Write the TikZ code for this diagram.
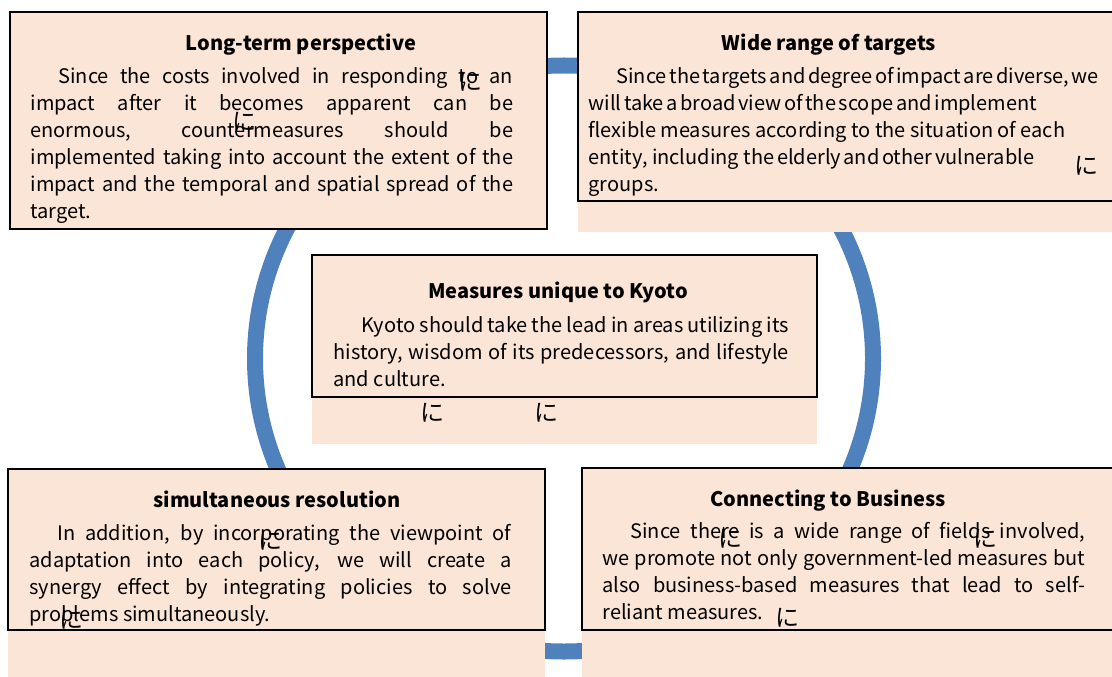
\documentclass[tikz,border=0pt]{standalone}
\usepackage{fontspec}
\setmainfont{Noto Sans CJK JP}

\tikzset{every picture/.style={line width=0.75pt}}
\tikzset{
	peach/.style={fill={rgb, 255:red, 251; green, 229; blue, 214 }},
	frame/.style={draw=black, line width=1.6pt},
	ring/.style={draw={rgb, 255:red, 79; green, 129; blue, 189 }, line width=12pt},
	boxtitle/.style={anchor=base, inner sep=0pt, font=\fontsize{15}{20}\selectfont\bfseries},
	boxbody/.style={anchor=base west, inner sep=0pt, font=\fontsize{15}{20.25}\selectfont},
	stray/.style={inner sep=0pt, font=\fontsize{18}{18}\selectfont},
}
\def \ringX {564}
\def \ringY {358.5}
\def \ringRX {309}
\def \ringRY {293}
\def \indentA {\hspace*{21pt}}
\def \tightsp {\spaceskip=0.13em}
\def \normalsp {\spaceskip=0pt}

\begin{document}
\begin{tikzpicture}[x=0.75pt,y=0.75pt,yscale=-1,xscale=1]
	\useasboundingbox (0,0) rectangle (1112,677);

	%Shape: Ellipse (the cycle behind the boxes)
	\draw [ring] (\ringX,\ringY) ellipse [x radius=\ringRX, y radius=\ringRY];

	%Shape: Rectangle (top left)
	\fill [peach] (10,12) rectangle (547,229);
	\draw [frame] (10,12) rectangle (547,229);
	%Shape: Rectangle (top right)
	\fill [peach] (578,12) rectangle (1112,232);
	\draw [frame] (578,12) rectangle (1113,201);
	%Shape: Rectangle (centre)
	\fill [peach] (312,255) rectangle (817,444);
	\draw [frame] (312,255) rectangle (817,397);
	%Shape: Rectangle (bottom left)
	\fill [peach] (8,469) rectangle (545,677);
	\draw [frame] (8,469) rectangle (545,630);
	%Shape: Rectangle (bottom right)
	\fill [peach] (582,468) rectangle (1112,677);
	\draw [frame] (582,468) rectangle (1113,630);

	% Text Node
	\draw (301,51) node (longTitle) [boxtitle] {Long-term perspective};
	% Text Node
	\draw (30,84) node (longBody) [boxbody, text width=362pt, align=justify] {\indentA Since the costs involved in responding to an\linebreak impact after it becomes apparent can be\linebreak enormous, countermeasures should be\linebreak implemented taking into account the extent of the\linebreak impact and the temporal and spatial spread of the\linebreak target.};

	% Text Node
	\draw (829,51) node (wideTitle) [boxtitle] {Wide range of targets};
	% Text Node
	\draw (588,84) node (wideBody) [boxbody, text width=400pt, align=left] {\tightsp\indentA Since the targets and degree of impact are diverse, we\\will take a broad view of the scope and implement\\\normalsp flexible measures according to the situation of each\\entity, including \tightsp the elderly and other vulnerable\\groups.};

	% Text Node
	\draw (558,298) node (kyotoTitle) [boxtitle] {Measures unique to Kyoto};
	% Text Node
	\draw (333,332) node (kyotoBody) [boxbody, text width=341.5pt, align=justify] {\indentA Kyoto should take the lead in areas utilizing its\linebreak history, wisdom of its predecessors, and lifestyle\linebreak and culture.};

	% Text Node
	\draw (277,507) node (simTitle) [boxtitle] {simultaneous resolution};
	% Text Node
	\draw (29,540) node (simBody) [boxbody, text width=361.5pt, align=justify] {\indentA In addition, by incorporating the viewpoint of\linebreak adaptation into each policy, we will create a\linebreak synergy effect by integrating policies to solve\linebreak problems simultaneously.};

	% Text Node
	\draw (828,506) node (bizTitle) [boxtitle] {Connecting to Business};
	% Text Node
	\draw (602,538) node (bizBody) [boxbody, text width=362pt, align=justify] {\indentA Since there is a wide range of fields involved,\linebreak we promote not only government-led measures but\linebreak also business-based measures that lead to self-\linebreak reliant measures.};

	% stray kana left over on the boxes
	\draw (470,82) node (kanaA) [stray] {に};
	\draw (244,122) node (kanaB) [stray] {に};
	\draw (1086,166) node (kanaC) [stray] {に};
	\draw (432,413) node (kanaD) [stray] {に};
	\draw (546,413) node (kanaE) [stray] {に};
	\draw (270,541) node (kanaF) [stray] {に};
	\draw (71,620) node (kanaG) [stray] {に};
	\draw (730,539) node (kanaH) [stray] {に};
	\draw (985,539) node (kanaI) [stray] {に};
	\draw (787,618) node (kanaJ) [stray] {に};

\end{tikzpicture}
\end{document}
